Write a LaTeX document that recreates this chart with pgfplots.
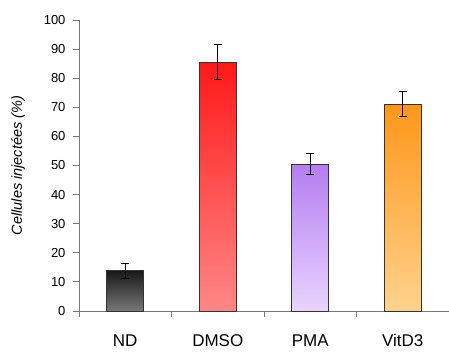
\documentclass[border=0pt]{standalone}
\usepackage{pgfplots}
\pgfplotsset{compat=1.18}
\usepackage{fontspec}
\setmainfont{Liberation Sans}
\definecolor{axgray}{RGB}{120,120,120}
\begin{document}
\begin{tikzpicture}
\useasboundingbox (-79pt,-41pt) rectangle (370pt,311pt);
\begin{axis}[
  at={(0pt,0pt)}, anchor=south west,
  scale only axis, width=370pt, height=291pt,
  xmin=-0.5, xmax=3.5, ymin=0, ymax=100,
  axis x line*=bottom, axis y line*=left,
  axis line style={axgray, line width=0.9pt},
  ytick={0,10,...,100},
  xtick={0,1,2,3},
  xticklabels={ND,DMSO,PMA,VitD3},
  major tick length=0pt,
  xticklabel style={font=\fontsize{17}{17}\selectfont, yshift=-20pt},
  /pgf/number format/assume math mode=true,
  yticklabel style={font=\fontsize{13}{13}\selectfont, xshift=-10pt},
  ylabel={\itshape Cellules injectées (\%)},
  every axis y label/.style={at={(axis description cs:-0.165,0.5)}, anchor=center, rotate=90, font=\fontsize{14.5}{14.5}\selectfont},
  bar width=37pt,
  error bars/y dir=both, error bars/y explicit,
  error bars/error bar style={black, line width=0.8pt},
  error bars/error mark options={black, line width=0.8pt, mark size=4pt, rotate=90},
  clip=false,
]
\addplot[ybar, bar shift=0pt, draw=black!80, line width=0.8pt, top color={rgb,255:red,25;green,25;blue,25}, bottom color={rgb,255:red,120;green,120;blue,120}]
  coordinates {(0,13.8) +- (0,2.5)};
\addplot[ybar, bar shift=0pt, draw=black!80, line width=0.8pt, top color={rgb,255:red,255;green,25;blue,25}, bottom color={rgb,255:red,255;green,135;blue,135}]
  coordinates {(1,85.5) +- (0,6)};
\addplot[ybar, bar shift=0pt, draw=black!80, line width=0.8pt, top color={rgb,255:red,180;green,125;blue,240}, bottom color={rgb,255:red,232;green,212;blue,255}]
  coordinates {(2,50.5) +- (0,3.5)};
\addplot[ybar, bar shift=0pt, draw=black!80, line width=0.8pt, top color={rgb,255:red,255;green,150;blue,25}, bottom color={rgb,255:red,255;green,210;blue,140}]
  coordinates {(3,71.1) +- (0,4.3)};
\pgfplotsinvokeforeach{0,10,...,100}{
  \draw[axgray, line width=0.9pt] (axis cs:-0.5,#1) -- ++(-6pt,0pt);
}
\pgfplotsinvokeforeach{-0.5,0.5,1.5,2.5,3.5}{
  \draw[axgray, line width=0.9pt] (axis cs:#1,0) -- ++(0pt,-6pt);
}
\end{axis}
\end{tikzpicture}
\end{document}
